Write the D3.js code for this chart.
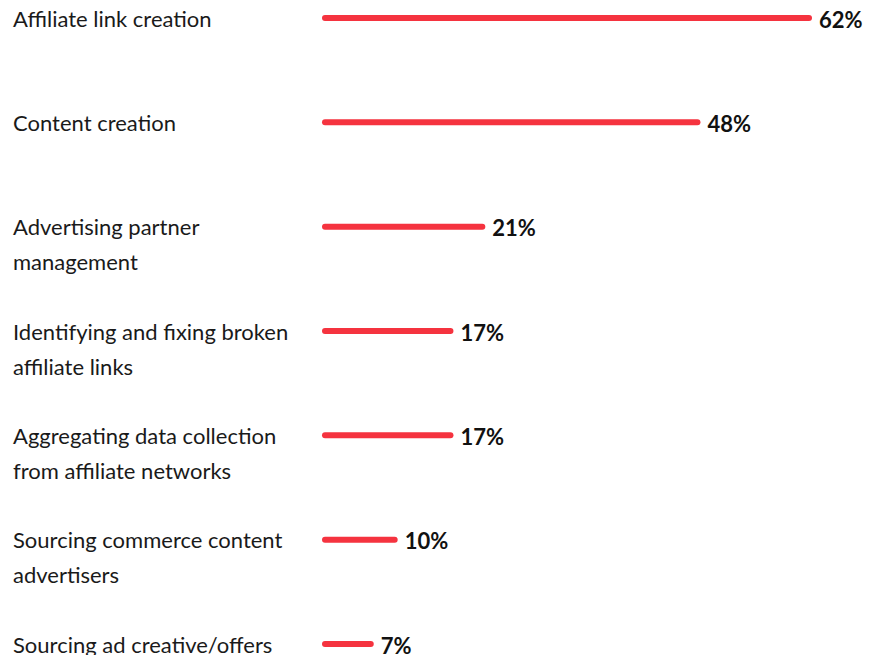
<!doctype html>
<html lang="en">
<head>
    <meta charset="UTF-8">
    <title>Affiliate tasks</title>
    <script src="https://d3js.org/d3.v7.min.js"></script>
    <style>
        body { margin: 0; background: #fff; }
    </style>
</head>
<body>
    <script>
        var categories = [
                ["Affiliate link creation"],
                ["Content creation"],
                ["Advertising partner", "management"],
                ["Identifying and fixing broken", "affiliate links"],
                ["Aggregating data collection", "from affiliate networks"],
                ["Sourcing commerce content", "advertisers"],
                ["Sourcing ad creative/offers"]
            ],
            values = [62, 48, 21, 17, 17, 10, 7],
            width = 883,
            height = 655;

        var svg = d3.select("body").append("svg")
                    .attr("width", width)
                    .attr("height", height);

        var y = d3.scalePoint()
                  .domain(d3.range(values.length))
                  .range([18, 644]);

        var x = d3.scaleLinear()
                  .domain([0, 62])
                  .range([315, 809]);

        var row = svg.selectAll("g.row")
            .data(values)
            .enter()
            .append("g")
            .attr("class", "row")
            .attr("transform", function(d, i){ return "translate(0," + y(i) + ")"; });

        // category labels, wrapped by hand like the original
        row.append("text")
            .attr("font-family", "Lato, 'Noto Sans', sans-serif")
            .attr("font-size", 22)
            .attr("fill", "#1a1a1a")
            .selectAll("tspan")
            .data(function(d, i){ return categories[i]; })
            .enter()
            .append("tspan")
            .attr("x", 13)
            .attr("y", function(d, j){ return j * 35 + 1; })
            .attr("dy", "0.35em")
            .text(function(d){ return d; });

        row.append("line")
            .attr("x1", 325)
            .attr("x2", function(d){ return x(d); })
            .attr("y1", 0)
            .attr("y2", 0)
            .attr("stroke", "#f5333f")
            .attr("stroke-width", 6)
            .attr("stroke-linecap", "round");

        row.append("text")
            .attr("x", function(d){ return x(d) + 10; })
            .attr("y", 2)
            .attr("dy", "0.35em")
            .attr("font-family", "Lato, 'Noto Sans', sans-serif")
            .attr("font-weight", "bold")
            .attr("font-size", 22)
            .attr("fill", "#111")
            .text(function(d){ return d + "%"; });
    </script>
</body>
</html>
